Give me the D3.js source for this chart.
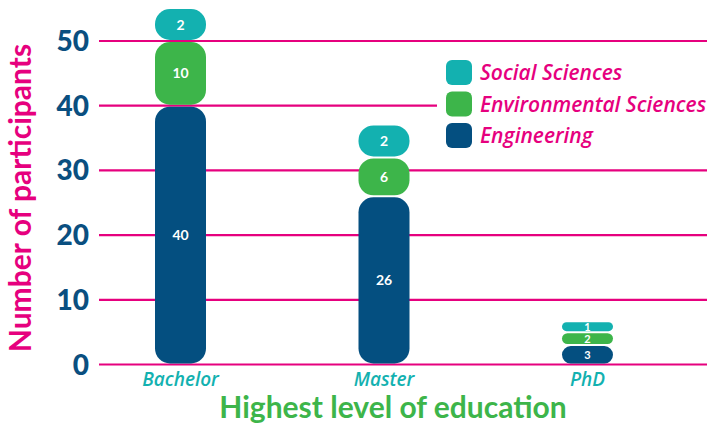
<!DOCTYPE html>
<html>
<head>
<meta charset="utf-8">
<script src="https://cdn.jsdelivr.net/npm/d3@7"></script>
<style>
    body { margin: 0; background: #fff; }
    svg { display: block; font-family: Lato, "Open Sans", sans-serif; }
</style>
</head>
<body>
<svg id="chart"></svg>
<script>
const categories = ["Bachelor", "Master", "PhD"];
const seriesNames = ["Engineering", "Environmental Sciences", "Social Sciences"];
const engineering = [40, 26, 3];
const environmental = [10, 6, 2];
const social = [2, 2, 1];
const yTicks = [0, 10, 20, 30, 40, 50];

const colors = {
    "Engineering": "#044f80",
    "Environmental Sciences": "#3db54a",
    "Social Sciences": "#13b1b0"
};
const pink = "#e6007e";

let width = 708;
let height = 423;

let svg = d3.select("#chart")
    .attr("width", width)
    .attr("height", height);

let rows = categories.map((c, i) => ({
    category: c,
    "Engineering": engineering[i],
    "Environmental Sciences": environmental[i],
    "Social Sciences": social[i]
}));

let stacked = d3.stack().keys(seriesNames)(rows);

let scaleY = d3.scaleLinear()
    .domain([0, 50])
    .range([364.5, 41]);

let scaleX = d3.scalePoint()
    .domain(categories)
    .range([180.5, 587.5]);

let barWidth = 51;

// grid lines
svg.append("g")
    .selectAll("line")
    .data(yTicks)
    .enter()
    .append("line")
    .attr("x1", 99)
    .attr("x2", 707)
    .attr("y1", d => scaleY(d))
    .attr("y2", d => scaleY(d))
    .attr("stroke", pink)
    .attr("stroke-width", 2.2);

// y axis labels
svg.append("g")
    .selectAll("text")
    .data(yTicks)
    .enter()
    .append("text")
    .attr("x", 89)
    .attr("y", d => scaleY(d))
    .attr("dy", "0.36em")
    .attr("text-anchor", "end")
    .style("font-size", "28px")
    .style("font-weight", "900")
    .style("fill", "#0a4f80")
    .text(d => d);

// segments, small pieces get a minimum height so the label fits
let segments = [];
categories.forEach((cat, i) => {
    let total = engineering[i] + environmental[i] + social[i];
    let minH = total > 10 ? 33 : 11;
    let bottom = scaleY(0);
    stacked.forEach(layer => {
        let d = layer[i];
        let h = scaleY(d[0]) - scaleY(d[1]);
        if (layer.key != "Engineering") h = Math.max(h, minH);
        segments.push({ category: cat, key: layer.key, value: d[1] - d[0], top: bottom - h, bottom: bottom });
        bottom = bottom - h;
    });
});

let segGroup = svg.append("g")
    .selectAll(".seg")
    .data(segments)
    .enter()
    .append("g")
    .attr("class", "seg");

segGroup.append("rect")
    .attr("x", d => scaleX(d.category) - barWidth / 2)
    .attr("y", d => d.top + 1)
    .attr("width", barWidth)
    .attr("height", d => d.bottom - d.top - 2)
    .attr("rx", d => Math.min(15, (d.bottom - d.top - 2) / 2))
    .attr("fill", d => colors[d.key]);

segGroup.append("text")
    .attr("x", d => scaleX(d.category))
    .attr("y", d => (d.top + d.bottom) / 2)
    .attr("dy", "0.36em")
    .attr("text-anchor", "middle")
    .style("fill", "white")
    .style("font-weight", "bold")
    .style("font-size", d => d.bottom - d.top < 20 ? "11px" : "14px")
    .text(d => d.value);

// x labels
svg.append("g")
    .selectAll("text")
    .data(categories)
    .enter()
    .append("text")
    .attr("x", d => scaleX(d))
    .attr("y", 386)
    .attr("text-anchor", "middle")
    .style("font-family", "'Open Sans', sans-serif")
    .style("font-size", "19px")
    .style("font-style", "italic")
    .style("font-weight", "600")
    .style("fill", "#13b1b0")
    .text(d => d);

// axis titles
svg.append("text")
    .attr("x", 393)
    .attr("y", 418)
    .attr("text-anchor", "middle")
    .style("font-size", "30px")
    .style("font-weight", "bold")
    .style("fill", "#3db54a")
    .text("Highest level of education");

svg.append("text")
    .attr("transform", "translate(31,198) rotate(-90)")
    .attr("text-anchor", "middle")
    .style("font-size", "30px")
    .style("font-weight", "bold")
    .style("fill", pink)
    .text("Number of participants");

// legend, with a white backing that hides the grid line behind it
svg.append("rect")
    .attr("x", 437)
    .attr("y", 56)
    .attr("width", width - 437)
    .attr("height", 96)
    .attr("fill", "white");

let legendKeys = seriesNames.slice().reverse();
let legend = svg.append("g")
    .selectAll("g")
    .data(legendKeys)
    .enter()
    .append("g")
    .attr("transform", (d, i) => `translate(446, ${60 + i * 31.5})`);

legend.append("rect")
    .attr("width", 26)
    .attr("height", 25)
    .attr("rx", 6)
    .attr("fill", d => colors[d]);

legend.append("text")
    .attr("x", 34)
    .attr("y", 12.5)
    .attr("dy", "0.36em")
    .style("font-family", "'Open Sans', sans-serif")
    .style("font-size", "21px")
    .style("font-style", "italic")
    .style("font-weight", "600")
    .style("fill", pink)
    .text(d => d);
</script>
</body>
</html>
